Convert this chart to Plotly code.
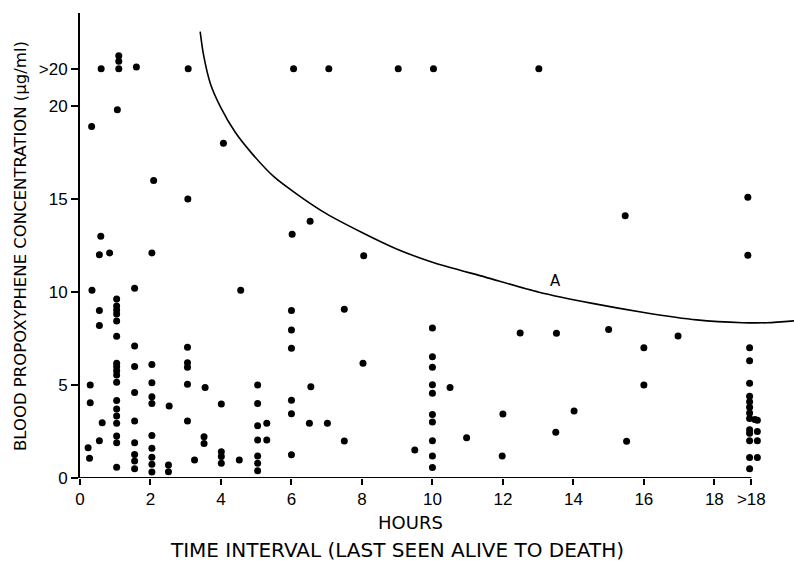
import plotly.graph_objects as go

# ---- data ----
hours = [
    0.6, 1.1, 1.1, 1.1, 1.6, 3.07, 6.06, 7.06, 9.03, 10.03, 13.02,
    1.06, 0.33, 4.07, 2.09, 3.06, 6.53, 6.02, 0.59, 0.55, 0.84, 2.04, 8.05,
    0.34, 1.55, 4.56, 0.55, 0.55,
    1.04, 1.04, 1.04, 1.04, 1.04, 1.04, 1.04, 1.04, 1.04, 1.04, 1.04,
    1.04, 1.04, 1.04, 1.04, 1.04, 1.04, 1.04,
    0.29, 0.29, 0.23, 0.27, 0.63, 0.55,
    1.55, 1.55, 1.55, 1.55, 1.55, 1.55, 1.55, 1.55,
    2.04, 2.04, 2.04, 2.04, 2.04, 2.04, 2.04, 2.04, 2.04,
    2.53, 2.51, 2.51,
    3.05, 3.05, 3.05, 3.05, 3.05,
    3.55, 3.52, 3.52, 3.25,
    4.01, 4.01, 4.01, 4.01, 4.52,
    5.04, 5.04, 5.04, 5.04, 5.04, 5.04, 5.04, 5.3, 5.3,
    6.0, 6.0, 6.0, 6.0, 6.0, 6.0,
    7.5, 8.03, 6.55, 6.51, 7.02, 7.5,
    10.0, 10.0, 10.0, 10.0, 10.0, 10.0, 10.0, 10.0, 10.0, 10.0,
    10.5, 12.49, 12.0, 10.97, 9.5, 11.98,
    13.52, 15.0, 16.0, 16.97, 15.47, 18.95, 18.95, 16.0, 14.02, 13.5, 15.51,
    19.0, 19.0, 19.0, 19.0, 19.0, 19.0, 19.0, 19.0, 19.0, 19.0, 19.0, 19.0, 19.0,
    19.15, 19.22, 19.22, 19.22, 19.22,
]
concentration = [
    22.0, 22.7, 22.4, 22.0, 22.1, 22.0, 22.0, 22.0, 22.0, 22.0, 22.0,
    19.8, 18.9, 18.0, 16.0, 15.0, 13.8, 13.1, 13.0, 12.0, 12.1, 12.1, 11.95,
    10.1, 10.2, 10.1, 9.0, 8.2,
    9.62, 9.25, 9.03, 8.82, 8.44, 7.62, 6.17, 5.98, 5.77, 5.54, 5.15,
    4.16, 3.71, 3.33, 2.94, 2.26, 1.90, 0.58,
    5.0, 4.05, 1.63, 1.06, 2.97, 2.0,
    7.1, 6.0, 4.6, 3.06, 1.9, 1.27, 0.91, 0.5,
    6.1, 5.12, 4.37, 4.0, 2.28, 1.6, 1.11, 0.74, 0.32,
    3.87, 0.7, 0.34,
    7.03, 6.2, 5.95, 5.04, 3.06,
    4.87, 2.22, 1.86, 0.97,
    3.98, 1.41, 1.15, 0.79, 0.97,
    5.0, 4.0, 2.81, 2.04, 1.18, 0.79, 0.39, 2.94, 2.04,
    9.0, 7.96, 6.97, 4.18, 3.46, 1.25,
    9.07, 6.17, 4.91, 2.94, 2.94, 1.99,
    8.06, 6.52, 5.95, 5.02, 4.55, 3.42, 3.01, 2.0, 1.18, 0.57,
    4.87, 7.8, 3.44, 2.17, 1.5, 1.18,
    7.78, 7.99, 7.0, 7.63, 14.1, 15.1, 11.97, 5.0, 3.6, 2.46, 1.97,
    7.0, 6.3, 5.1, 4.4, 4.1, 3.8, 3.5, 3.2, 2.6, 2.4, 2.0, 1.1, 0.5,
    3.15, 3.1, 2.5, 2.0, 1.1,
]

# curve "A"
curve_hours = [3.41, 3.5, 3.7, 4.0, 4.4, 4.9, 5.5, 6.2, 7.0, 8.0, 9.0, 10.0,
               11.5, 13.0, 14.5, 16.0, 17.5, 18.8, 19.5, 20.26]
curve_values = [24.0, 22.8, 21.2, 19.9, 18.6, 17.4, 16.2, 15.2, 14.2, 13.2, 12.3, 11.6,
                10.8, 10.0, 9.4, 8.9, 8.5, 8.35, 8.35, 8.45]

x_tickvals = [0, 2, 4, 6, 8, 10, 12, 14, 16, 18, 19.05]
x_ticktext = ["0", "2", "4", "6", "8", "10", "12", "14", "16", "18", ">18"]
y_tickvals = [0, 5, 10, 15, 20, 22]
y_ticktext = ["0", "5", "10", "15", "20", ">20"]

TICKFONT = "Liberation Sans"
TITLEFONT = "DejaVu Sans"

fig = go.Figure()
fig.add_trace(go.Scatter(
    x=curve_hours, y=curve_values, mode="lines",
    line=dict(color="black", width=1.6, shape="spline", smoothing=0.7),
    hoverinfo="skip", showlegend=False,
))
fig.add_trace(go.Scatter(
    x=hours, y=concentration, mode="markers",
    marker=dict(color="black", size=7, line=dict(width=0)),
    showlegend=False,
))

fig.update_layout(
    width=794, height=562,
    margin=dict(l=80, r=0, t=13, b=84),
    plot_bgcolor="white", paper_bgcolor="white",
    font=dict(family=TICKFONT, color="black", size=17),
    xaxis=dict(
        range=[0, 20.26], showgrid=False, zeroline=False, showline=False,
        tickmode="array", tickvals=x_tickvals, ticktext=x_ticktext,
        ticks="outside", ticklen=6, tickwidth=1.5, tickcolor="black",
        tickfont=dict(size=17, family=TICKFONT),
    ),
    yaxis=dict(
        range=[0, 25.0], showgrid=False, zeroline=False,
        showline=True, linecolor="black", linewidth=2,
        tickmode="array", tickvals=y_tickvals, ticktext=y_ticktext,
        ticks="outside", ticklen=7, tickwidth=1.5, tickcolor="black",
        tickfont=dict(size=17, family=TICKFONT),
    ),
    shapes=[dict(type="line", xref="x", yref="y", x0=0, x1=19.05, y0=0, y1=0,
                 line=dict(color="black", width=2))],
    annotations=[
        dict(text="A", x=13.5, y=10.6, xref="x", yref="y", showarrow=False,
             font=dict(size=15, family=TITLEFONT)),
        dict(text="HOURS", x=(410 - 80) / 714, y=(478 - 522) / 465, xref="paper", yref="paper",
             showarrow=False, font=dict(size=18, family=TITLEFONT), yanchor="middle"),
        dict(text="TIME INTERVAL (LAST SEEN ALIVE TO DEATH)", x=(397 - 80) / 714,
             y=(478 - 550) / 465, xref="paper", yref="paper", showarrow=False,
             font=dict(size=20, family=TITLEFONT), yanchor="middle"),
        dict(text="BLOOD PROPOXYPHENE CONCENTRATION (\u03bcg/ml)", x=(20 - 80) / 714,
             y=(478 - 246) / 465, xref="paper", yref="paper", showarrow=False,
             textangle=-90, font=dict(size=16.5, family=TITLEFONT), xanchor="center", yanchor="middle"),
    ],
)

fig.write_html("out.html")
